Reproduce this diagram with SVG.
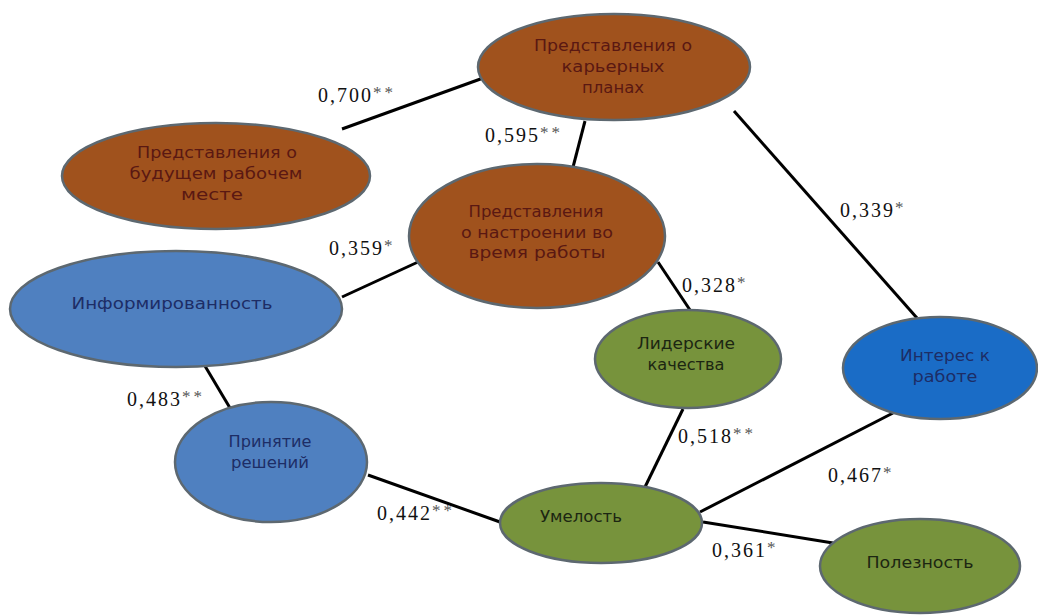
<svg xmlns="http://www.w3.org/2000/svg" width="1038" height="616" viewBox="0 0 1038 616">
<style>
.node{stroke:#5d6870;stroke-width:2.5}
.brown{fill:#A0521D}
.blue{fill:#4F80C0}
.blue2{fill:#1A6CC6}
.green{fill:#77933C}
.nt{font-family:"DejaVu Sans","Liberation Sans",sans-serif;font-size:15px;text-anchor:middle}
.tb{fill:#5a1812}
.tn{fill:#1d2d66}
.tg{fill:#1c2612}
.edge{stroke:#000;stroke-width:3;fill:none}
.lbl{font-family:"Liberation Serif","Times New Roman",serif;font-size:20px;fill:#111;letter-spacing:2px}
.ast{font-size:17px;fill:#555;letter-spacing:3px}
</style>
<rect width="1038" height="616" fill="#fff"/>
<g id="connectors">
<line class="edge" x1="342" y1="129" x2="486" y2="77"/>
<line class="edge" x1="585" y1="121" x2="572" y2="171"/>
<line class="edge" x1="734" y1="111" x2="917" y2="318"/>
<line class="edge" x1="342" y1="297" x2="418" y2="262"/>
<line class="edge" x1="658" y1="262" x2="690" y2="310"/>
<line class="edge" x1="205" y1="366" x2="230" y2="408"/>
<line class="edge" x1="368" y1="475" x2="500" y2="522"/>
<line class="edge" x1="683" y1="409" x2="645" y2="487"/>
<line class="edge" x1="700" y1="512" x2="893" y2="413"/>
<line class="edge" x1="703" y1="522" x2="833" y2="543"/>
</g>
<g id="labels">
<text class="lbl" x="318" y="102">0,700<tspan class="ast" dy="-4">**</tspan></text>
<text class="lbl" x="485" y="142">0,595<tspan class="ast" dy="-4">**</tspan></text>
<text class="lbl" x="329" y="255">0,359<tspan class="ast" dy="-4">*</tspan></text>
<text class="lbl" x="840" y="217">0,339<tspan class="ast" dy="-4">*</tspan></text>
<text class="lbl" x="682" y="292">0,328<tspan class="ast" dy="-4">*</tspan></text>
<text class="lbl" x="127" y="406">0,483<tspan class="ast" dy="-4">**</tspan></text>
<text class="lbl" x="377" y="520">0,442<tspan class="ast" dy="-4">**</tspan></text>
<text class="lbl" x="678" y="443">0,518<tspan class="ast" dy="-4">**</tspan></text>
<text class="lbl" x="828" y="482">0,467<tspan class="ast" dy="-4">*</tspan></text>
<text class="lbl" x="712" y="557">0,361<tspan class="ast" dy="-4">*</tspan></text>
</g>
<g id="node-career">
<ellipse class="node brown" cx="614" cy="67" rx="136" ry="53"/>
<text class="nt tb" x="613" y="51" textLength="158" lengthAdjust="spacingAndGlyphs">Представления о</text>
<text class="nt tb" x="613" y="72" textLength="103" lengthAdjust="spacingAndGlyphs">карьерных</text>
<text class="nt tb" x="613" y="93" textLength="62" lengthAdjust="spacingAndGlyphs">планах</text>
</g>
<g id="node-workplace">
<ellipse class="node brown" cx="216" cy="176" rx="154" ry="53"/>
<text class="nt tb" x="217" y="158" textLength="160" lengthAdjust="spacingAndGlyphs">Представления о</text>
<text class="nt tb" x="216" y="179" textLength="173" lengthAdjust="spacingAndGlyphs">будущем рабочем</text>
<text class="nt tb" x="212" y="200" textLength="62" lengthAdjust="spacingAndGlyphs">месте</text>
</g>
<g id="node-mood">
<ellipse class="node brown" cx="537" cy="236" rx="128" ry="72"/>
<text class="nt tb" x="536" y="217" textLength="135" lengthAdjust="spacingAndGlyphs">Представления</text>
<text class="nt tb" x="537" y="238" textLength="152" lengthAdjust="spacingAndGlyphs">о настроении во</text>
<text class="nt tb" x="537" y="258" textLength="137" lengthAdjust="spacingAndGlyphs">время работы</text>
</g>
<g id="node-info">
<ellipse class="node blue" cx="176" cy="309" rx="166" ry="58"/>
<text class="nt tn" x="172" y="309" textLength="201" lengthAdjust="spacingAndGlyphs">Информированность</text>
</g>
<g id="node-leader">
<ellipse class="node green" cx="688" cy="359" rx="93" ry="49"/>
<text class="nt tg" x="686" y="349" textLength="98" lengthAdjust="spacingAndGlyphs">Лидерские</text>
<text class="nt tg" x="686" y="370" textLength="77" lengthAdjust="spacingAndGlyphs">качества</text>
</g>
<g id="node-interest">
<ellipse class="node blue2" cx="940" cy="368" rx="97" ry="51"/>
<text class="nt tn" x="945" y="361" textLength="90" lengthAdjust="spacingAndGlyphs">Интерес к</text>
<text class="nt tn" x="945" y="382" textLength="65" lengthAdjust="spacingAndGlyphs">работе</text>
</g>
<g id="node-decision">
<ellipse class="node blue" cx="271" cy="462" rx="96" ry="60"/>
<text class="nt tn" x="270" y="447" textLength="83" lengthAdjust="spacingAndGlyphs">Принятие</text>
<text class="nt tn" x="270" y="468" textLength="78" lengthAdjust="spacingAndGlyphs">решений</text>
</g>
<g id="node-skill">
<ellipse class="node green" cx="601" cy="523" rx="101" ry="40"/>
<text class="nt tg" x="581" y="522" textLength="82" lengthAdjust="spacingAndGlyphs">Умелость</text>
</g>
<g id="node-useful">
<ellipse class="node green" cx="920" cy="566" rx="100" ry="47"/>
<text class="nt tg" x="920" y="568" textLength="107" lengthAdjust="spacingAndGlyphs">Полезность</text>
</g>
</svg>
